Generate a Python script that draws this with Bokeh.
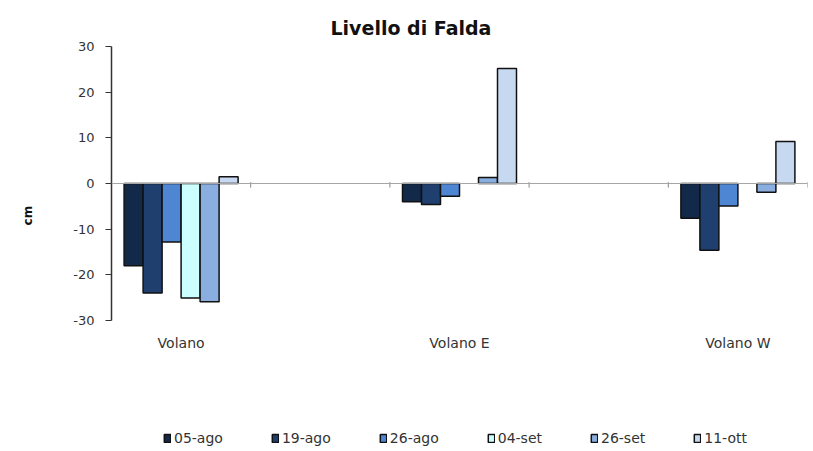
from bokeh.plotting import figure
from bokeh.models import (ColumnDataSource, FixedTicker, Span, Legend, LegendItem, Range1d,
                          LinearAxis, PrintfTickFormatter)
from bokeh.transform import dodge
from bokeh.core.properties import value
from bokeh.embed import file_html
from bokeh.resources import INLINE
import numpy as np

# ---- data ----
categories = ["Volano", "Volano E", "Volano W"]
series = ["05-ago", "19-ago", "26-ago", "04-set", "26-set", "11-ott"]
v_05ago = [-18.0, -4.0, -7.6]
v_19ago = [-24.0, -4.6, -14.6]
v_26ago = [-12.8, -2.8, -4.9]
v_04set = [-25.1, np.nan, np.nan]
v_26set = [-25.9, 1.3, -1.9]
v_11ott = [1.5, 25.2, 9.2]
colors = ["#13294a", "#1f3f6e", "#4f86d4", "#ccffff", "#8aaedf", "#c6d9f1"]
y_ticks = [-30, -20, -10, 0, 10, 20, 30]

values = [v_05ago, v_19ago, v_26ago, v_04set, v_26set, v_11ott]

# categories sit on every other slot of a 5-slot axis (as in the original)
n_slots = 2 * len(categories) - 1
cat_pos = [2 * i + 0.5 for i in range(len(categories))]

src = ColumnDataSource(dict(x=cat_pos, **{s: v for s, v in zip(series, values)}))

FONT = "DejaVu Sans"

# layout: value axis spans 274 px (frame top 46 -> -30 at 320); frame runs to bottom
W, H = 813, 451
TOP, AXIS_PX = 46, 274
y_max, y_min = max(y_ticks), min(y_ticks)
px_per_unit = AXIS_PX / (y_max - y_min)
y_start = y_max - (H - TOP) / px_per_unit

p = figure(width=W, height=H, output_backend="svg", toolbar_location=None,
           x_range=Range1d(0, n_slots), y_range=Range1d(y_start, y_max),
           x_axis_location=None,
           min_border_left=111, min_border_right=6, min_border_top=TOP,
           min_border_bottom=0)
p.background_fill_color = "white"
p.border_fill_color = "white"
p.outline_line_color = None
p.grid.grid_line_color = None

p.title.text = "Livello  di Falda"
p.title.align = "left"
p.title.offset = 219
p.title.text_font = FONT
p.title.text_font_size = "19px"
p.title.text_font_style = "bold"
p.title.text_color = "#111111"
p.title.standoff = 16

bw = 0.1365
renderers = []
for i, (s, c) in enumerate(zip(series, colors)):
    r = p.vbar(x=dodge("x", (i - 2.5) * bw, range=p.x_range), top=s, bottom=0,
               width=bw, source=src, fill_color=c, line_color="#111111",
               line_width=1.5)
    renderers.append(r)

# zero line
p.add_layout(Span(location=0, dimension="width", line_color="#a6a6a6", line_width=1))
# small category-separator ticks on the zero line
bounds = list(range(1, n_slots + 1))
p.segment(x0=bounds, x1=bounds, y0=[0.3] * len(bounds), y1=[-0.9] * len(bounds),
          line_color="#888888", line_width=1)

# category labels under the value axis
lab_y = y_min - 22 / px_per_unit
p.text(x=cat_pos, y=[lab_y] * len(cat_pos), text=categories,
       text_align="center", text_baseline="middle",
       text_font=value(FONT), text_font_size="14px", text_color="#333333")

# y axis
p.yaxis.ticker = FixedTicker(ticks=y_ticks)
p.yaxis.formatter = PrintfTickFormatter(format="%d")
p.yaxis.bounds = (y_min, y_max)
p.yaxis.minor_tick_line_color = None
p.yaxis.axis_line_color = "#333333"
p.yaxis.axis_line_width = 1.5
p.yaxis.major_tick_line_color = "#333333"
p.yaxis.major_tick_in = 0
p.yaxis.major_tick_out = 6
p.yaxis.major_label_standoff = 11
p.yaxis.major_label_text_font = FONT
p.yaxis.major_label_text_font_size = "13px"
p.yaxis.major_label_text_color = "#333333"

# separate axis carrying only the "cm" title (leading no-break spaces lift it
# to sit a little below the zero line, as in the original)
cm_axis = LinearAxis(ticker=FixedTicker(ticks=[]), bounds=(y_min, y_max),
                     axis_line_color=None, major_tick_line_color=None,
                     minor_tick_line_color=None, major_label_text_font_size="0px",
                     axis_label="\u00a0" * 16 + "cm", axis_label_standoff=36,
                     axis_label_text_font=FONT, axis_label_text_font_size="12px",
                     axis_label_text_font_style="bold", axis_label_text_color="#111111")
p.add_layout(cm_axis, "left")

legend = Legend(items=[LegendItem(label=s, renderers=[r]) for s, r in zip(series, renderers)],
                orientation="horizontal", location=(52, 5))
legend.glyph_width = 8
legend.glyph_height = 10
legend.label_standoff = 3
legend.spacing = 48
legend.padding = 0
legend.margin = 0
legend.border_line_color = None
legend.background_fill_alpha = 0
legend.label_text_font = FONT
legend.label_text_font_size = "14px"
legend.label_text_color = "#333333"
p.add_layout(legend, "center")

open("out.html", "w").write(file_html(p, INLINE))
